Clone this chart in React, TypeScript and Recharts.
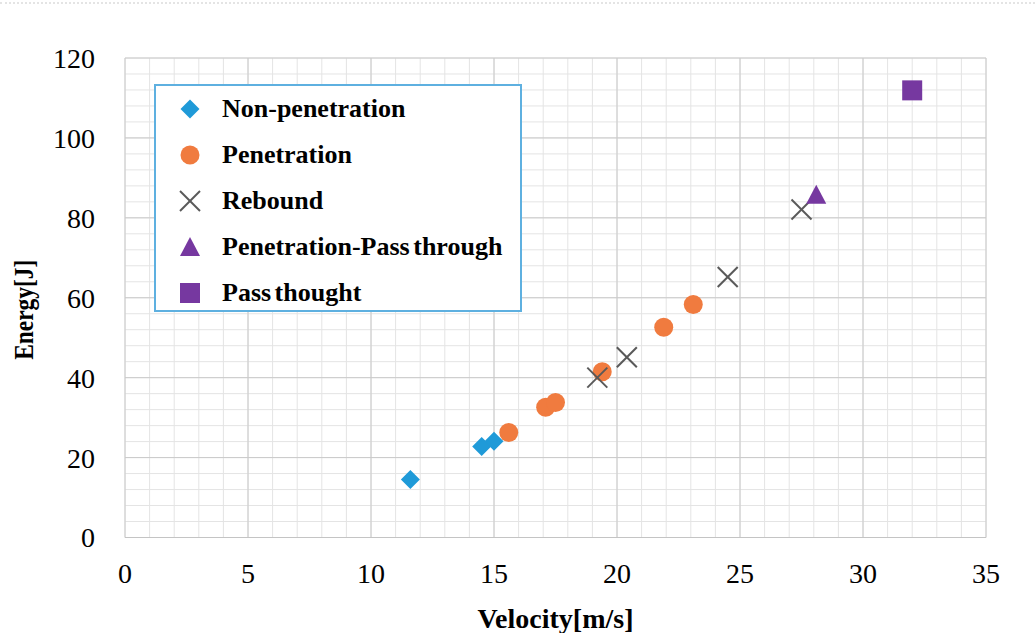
import {
  CartesianGrid,
  Label,
  Legend,
  Scatter,
  ScatterChart,
  XAxis,
  YAxis,
} from "recharts";

const xTicks = [0, 5, 10, 15, 20, 25, 30, 35];
const yTicks = [0, 20, 40, 60, 80, 100, 120];
const xMinor = Array.from({ length: 36 }, (_, i) => i);
const yMinor = Array.from({ length: 31 }, (_, i) => i * 4);

const nonPenVelocity = [11.6, 14.5, 15.0];
const nonPenEnergy = [14.5, 22.8, 24.1];
const penVelocity = [15.6, 17.1, 17.5, 19.4, 21.9, 23.1];
const penEnergy = [26.3, 32.6, 33.8, 41.5, 52.6, 58.3];
const reboundVelocity = [19.2, 20.4, 24.5, 27.5];
const reboundEnergy = [40.0, 45.1, 65.2, 82.1];
const penPassVelocity = [28.1];
const penPassEnergy = [85.8];
const passVelocity = [32.0];
const passEnergy = [111.9];

const BLUE = "#1f9ad8";
const ORANGE = "#f07b3f";
const GREY = "#595959";
const PURPLE = "#7638a0";
const FONT = '"Liberation Serif", "Times New Roman", serif';

const toPoints = (xs: number[], ys: number[]) =>
  xs.map((v, i) => ({ velocity: v, energy: ys[i] }));

type MarkerKind = "diamond" | "circle" | "cross" | "triangle" | "square";

const Marker = ({ kind, cx, cy }: { kind: MarkerKind; cx: number; cy: number }) => {
  switch (kind) {
    case "diamond":
      return (
        <polygon
          points={`${cx},${cy - 9.5} ${cx + 9.5},${cy} ${cx},${cy + 9.5} ${cx - 9.5},${cy}`}
          fill={BLUE}
        />
      );
    case "circle":
      return <circle cx={cx} cy={cy} r={9.5} fill={ORANGE} />;
    case "cross":
      return (
        <g stroke={GREY} strokeWidth={2}>
          <line x1={cx - 10} y1={cy - 10} x2={cx + 10} y2={cy + 10} />
          <line x1={cx - 10} y1={cy + 10} x2={cx + 10} y2={cy - 10} />
        </g>
      );
    case "triangle":
      return (
        <polygon
          points={`${cx},${cy - 10} ${cx + 10},${cy + 9} ${cx - 10},${cy + 9}`}
          fill={PURPLE}
        />
      );
    default:
      return <rect x={cx - 10} y={cy - 10} width={20} height={20} fill={PURPLE} />;
  }
};

const series: { name: string; kind: MarkerKind; data: { velocity: number; energy: number }[] }[] = [
  { name: "Non-penetration", kind: "diamond", data: toPoints(nonPenVelocity, nonPenEnergy) },
  { name: "Penetration", kind: "circle", data: toPoints(penVelocity, penEnergy) },
  { name: "Rebound", kind: "cross", data: toPoints(reboundVelocity, reboundEnergy) },
  { name: "Penetration-Pass through", kind: "triangle", data: toPoints(penPassVelocity, penPassEnergy) },
  { name: "Pass thought", kind: "square", data: toPoints(passVelocity, passEnergy) },
];

const LegendBox = () => (
  <div
    style={{
      width: 368,
      height: 228,
      boxSizing: "border-box",
      border: "2px solid #5eb0e0",
      background: "#fff",
      position: "relative",
      fontFamily: FONT,
    }}
  >
    {series.map((s, i) => (
      <div
        key={s.name}
        style={{
          position: "absolute",
          left: 0,
          top: i * 46,
          height: 46,
          display: "flex",
          alignItems: "center",
          whiteSpace: "nowrap",
        }}
      >
        <svg width={24} height={24} style={{ marginLeft: 22 }}>
          <Marker kind={s.kind} cx={12} cy={12} />
        </svg>
        <span
          style={{
            marginLeft: 20,
            fontSize: 26,
            fontWeight: "bold",
            color: "#000",
            wordSpacing: s.name.includes(" ") ? -3 : 0,
          }}
        >
          {s.name}
        </span>
      </div>
    ))}
  </div>
);

export default function App() {
  return (
    <div style={{ position: "absolute", left: 0, top: 0, width: 1035, height: 633, background: "#fff" }}>
      <div style={{ position: "absolute", left: 0, top: 2, width: 1035, borderTop: "2px dotted #e4e4e4" }} />
      <ScatterChart width={1035} height={633} margin={{ top: 58, right: 49, bottom: 0, left: 0 }}>
        <CartesianGrid stroke="#e4e4e4" verticalValues={xMinor} horizontalValues={yMinor} />
        <CartesianGrid stroke="#cacaca" verticalValues={xTicks} horizontalValues={yTicks} />
        <XAxis
          type="number"
          dataKey="velocity"
          domain={[0, 35]}
          ticks={xTicks}
          interval={0}
          height={95.5}
          tickSize={0}
          tickMargin={26}
          axisLine={{ stroke: "#c4c4c4" }}
          tick={{ fontSize: 28, fill: "#000", fontFamily: FONT }}
        >
          <Label
            value="Velocity[m/s]"
            position="insideBottom"
            offset={5}
            style={{ fontSize: 28, fontWeight: "bold", fill: "#000", fontFamily: FONT }}
          />
        </XAxis>
        <YAxis
          type="number"
          dataKey="energy"
          domain={[0, 120]}
          ticks={yTicks}
          interval={0}
          width={125}
          tickSize={0}
          tickMargin={30}
          axisLine={false}
          tick={{ fontSize: 28, fill: "#000", fontFamily: FONT }}
        >
          <Label
            content={({ viewBox }: any) => {
              const cx = viewBox.x + 23;
              const cy = viewBox.y + viewBox.height / 2 + 12;
              return (
                <text
                  x={cx}
                  y={cy}
                  transform={`rotate(-90 ${cx} ${cy})`}
                  textAnchor="middle"
                  dominantBaseline="central"
                  fontSize={28}
                  textLength={100}
                  lengthAdjust="spacingAndGlyphs"
                  fontWeight="bold"
                  fontFamily={FONT}
                  fill="#000"
                >
                  Energy[J]
                </text>
              );
            }}
          />
        </YAxis>
        <Legend
          layout="vertical"
          align="center"
          verticalAlign="middle"
          wrapperStyle={{ left: 154, top: 84, width: 368, height: 228 }}
          content={() => <LegendBox />}
        />
        {series.map((s) => (
          <Scatter
            key={s.name}
            name={s.name}
            data={s.data}
            isAnimationActive={false}
            shape={(p: any) => <Marker kind={s.kind} cx={p.cx} cy={p.cy} />}
          />
        ))}
      </ScatterChart>
    </div>
  );
}
